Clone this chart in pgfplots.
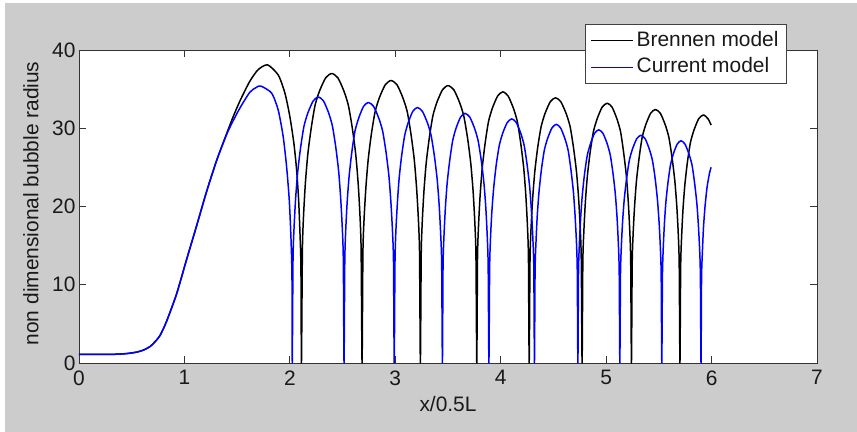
\documentclass[border=0pt]{standalone}
\usepackage{fontspec}
\setmainfont{Liberation Sans}
\usepackage{pgfplots}
\pgfplotsset{compat=1.18}
\definecolor{bgray}{HTML}{CCCCCC}
\definecolor{mblue}{RGB}{0,0,255}
\newcommand{\bigf}{\fontsize{21}{25}\selectfont}
\begin{document}
\begin{tikzpicture}
\fill[white] (-79bp,-69bp) rectangle (778bp,363bp);
\fill[bgray] (-74bp,-69bp) rectangle (778bp,360bp);
\begin{axis}[
  at={(0,0)}, anchor=south west,
  scale only axis, width=738bp, height=313bp,
  xmin=0, xmax=7, ymin=0, ymax=40,
  xtick={0,1,2,3,4,5,6,7}, ytick={0,10,20,30,40},
  tick align=inside, major tick length=7bp,
  axis background/.style={fill=white},
  axis line style={black!80, line width=0.9bp},
  every tick/.style={black!80, line width=0.8bp},
  /pgf/number format/assume math mode=true,
  tick label style={font=\bigf, text=black!90},
  xticklabel style={yshift=-4bp},
  xlabel={x/0.5L}, ylabel={non dimensional bubble radius},
  label style={font=\bigf, text=black!90},
  xlabel style={at={(axis description cs:0.5,-0.1556)}, anchor=base},
  ylabel style={at={(axis description cs:-0.0549,0.51)}, anchor=base, rotate=0},
  legend cell align=left,
  legend image code/.code={\draw[#1, line width=1.1pt] (0bp,0bp) -- (42bp,0bp);},
  legend style={at={(0.9593,1.0831)}, anchor=north east, draw=black!75, fill=white, line width=0.8bp,
    inner xsep=5bp, inner ysep=2.8bp,
    nodes={inner xsep=3bp, inner ysep=3.85bp, text height=15bp, text depth=4bp, font=\bigf, text=black!90}},
]
\addplot[black, line width=1.5pt, line join=round, smooth, tension=0.4] coordinates {
(0,1.1) (0.3,1.1) (0.45,1.2) (0.55,1.4) (0.62,1.7) (0.674,2.1) (0.72,2.7) (0.768,3.5) (0.83,5.3) (0.925,8.8) (1.02,13.2) (1.117,17.6) (1.21,21.9) (1.306,25.9) (1.40,29.3) (1.46,31.4) (1.527,33.5) (1.62,36.0) (1.70,37.5) (1.789,38.1) (1.89,36.8) (1.953,34.5) (2.0,31.5) (2.038,28.1) (2.064,24.7) (2.083,20.9) (2.096,16.6) (2.105,12.3) (2.11,0)
(2.119,14.43) (2.130,18.87) (2.147,22.94) (2.170,26.64) (2.202,29.97) (2.239,32.93) (2.282,34.78) (2.340,36.45) (2.397,37.0) (2.455,36.45) (2.512,34.78) (2.555,32.93) (2.593,29.97) (2.625,26.64) (2.648,22.94) (2.665,18.87) (2.676,14.43) (2.685,0)
(2.693,14.08) (2.704,18.41) (2.721,22.38) (2.743,25.99) (2.773,29.24) (2.809,32.13) (2.85,33.93) (2.905,35.56) (2.96,36.1) (3.016,35.56) (3.071,33.93) (3.113,32.13) (3.149,29.24) (3.180,25.99) (3.202,22.38) (3.219,18.41) (3.230,14.08) (3.238,0)
(3.246,13.83) (3.256,18.08) (3.272,21.98) (3.293,25.52) (3.322,28.71) (3.356,31.55) (3.395,33.32) (3.448,34.92) (3.50,35.45) (3.555,34.92) (3.609,33.32) (3.650,31.55) (3.686,28.71) (3.716,25.52) (3.738,21.98) (3.754,18.08) (3.765,13.83) (3.773,0)
(3.780,13.51) (3.790,17.67) (3.805,21.48) (3.825,24.95) (3.852,28.07) (3.884,30.84) (3.921,32.57) (3.971,34.13) (4.02,34.65) (4.07,34.13) (4.12,32.57) (4.158,30.84) (4.19,28.07) (4.218,24.95) (4.238,21.48) (4.253,17.67) (4.263,13.51) (4.27,0)
(4.278,13.22) (4.288,17.29) (4.303,21.02) (4.323,24.41) (4.35,27.46) (4.383,30.17) (4.42,31.87) (4.47,33.39) (4.52,33.9) (4.570,33.39) (4.621,31.87) (4.659,30.17) (4.691,27.46) (4.719,24.41) (4.739,21.02) (4.754,17.29) (4.764,13.22) (4.772,0)
(4.779,12.95) (4.789,16.93) (4.803,20.58) (4.822,23.90) (4.848,26.89) (4.879,29.55) (4.915,31.21) (4.962,32.70) (5.01,33.2) (5.056,32.70) (5.102,31.21) (5.137,29.55) (5.166,26.89) (5.192,23.90) (5.210,20.58) (5.224,16.93) (5.233,12.95) (5.24,0)
(5.247,12.64) (5.256,16.52) (5.270,20.09) (5.288,23.33) (5.313,26.24) (5.342,28.84) (5.376,30.46) (5.422,31.91) (5.467,32.4) (5.514,31.91) (5.560,30.46) (5.595,28.84) (5.625,26.24) (5.651,23.33) (5.670,20.09) (5.684,16.52) (5.693,12.64) (5.70,0)
(5.707,12.36) (5.716,16.17) (5.729,19.65) (5.747,22.82) (5.771,25.68) (5.800,28.21) (5.834,29.80) (5.878,31.22) (5.923,31.7) (5.967,31.2) (5.996,30.4)
};
\addlegendentry{Brennen model}
\addplot[mblue, line width=1.5pt, line join=round, smooth, tension=0.4] coordinates {
(0,1.1) (0.3,1.1) (0.45,1.2) (0.55,1.4) (0.62,1.7) (0.674,2.1) (0.72,2.7) (0.768,3.5) (0.83,5.3) (0.925,8.8) (1.02,13.2) (1.117,17.6) (1.21,21.9) (1.306,25.9) (1.40,29.2) (1.46,30.9) (1.527,32.6) (1.62,34.6) (1.68,35.2) (1.723,35.4) (1.827,34.5) (1.89,32.3) (1.937,28.9) (1.969,25.1) (1.994,20.9) (2.01,16.2) (2.02,11.1) (2.023,0)
(2.030,13.26) (2.040,17.34) (2.055,21.08) (2.075,24.48) (2.102,27.54) (2.134,30.26) (2.171,31.96) (2.221,33.49) (2.27,34.0) (2.319,33.49) (2.368,31.96) (2.404,30.26) (2.436,27.54) (2.463,24.48) (2.482,21.08) (2.497,17.34) (2.507,13.26) (2.514,0)
(2.521,12.99) (2.530,16.98) (2.544,20.65) (2.563,23.98) (2.588,26.97) (2.618,29.64) (2.653,31.30) (2.699,32.80) (2.745,33.3) (2.794,32.80) (2.843,31.30) (2.880,29.64) (2.912,26.97) (2.939,23.98) (2.958,20.65) (2.973,16.98) (2.983,12.99) (2.99,0)
(2.997,12.73) (3.005,16.65) (3.019,20.24) (3.036,23.51) (3.060,26.45) (3.089,29.06) (3.122,30.69) (3.166,32.16) (3.21,32.65) (3.257,32.16) (3.305,30.69) (3.340,29.06) (3.371,26.45) (3.397,23.51) (3.416,20.24) (3.430,16.65) (3.440,12.73) (3.447,0)
(3.453,12.44) (3.462,16.27) (3.475,19.78) (3.492,22.97) (3.516,25.84) (3.544,28.39) (3.576,29.99) (3.619,31.42) (3.662,31.9) (3.707,31.42) (3.752,29.99) (3.786,28.39) (3.816,25.84) (3.841,22.97) (3.859,19.78) (3.872,16.27) (3.881,12.44) (3.888,0)
(3.895,12.17) (3.903,15.91) (3.916,19.34) (3.934,22.46) (3.957,25.27) (3.986,27.77) (4.018,29.33) (4.062,30.73) (4.105,31.2) (4.148,30.73) (4.191,29.33) (4.223,27.77) (4.251,25.27) (4.275,22.46) (4.292,19.34) (4.305,15.91) (4.314,12.17) (4.32,0)
(4.326,11.90) (4.335,15.56) (4.347,18.91) (4.364,21.96) (4.386,24.71) (4.413,27.15) (4.444,28.67) (4.486,30.04) (4.527,30.5) (4.568,30.04) (4.609,28.67) (4.640,27.15) (4.666,24.71) (4.689,21.96) (4.705,18.91) (4.718,15.56) (4.726,11.90) (4.732,0)
(4.738,11.62) (4.746,15.20) (4.758,18.48) (4.774,21.46) (4.795,24.14) (4.821,26.52) (4.851,28.01) (4.890,29.35) (4.93,29.8) (4.97,29.35) (5.01,28.01) (5.04,26.52) (5.066,24.14) (5.088,21.46) (5.104,18.48) (5.116,15.20) (5.124,11.62) (5.13,0)
(5.136,11.35) (5.144,14.84) (5.156,18.04) (5.172,20.95) (5.194,23.57) (5.22,25.90) (5.25,27.35) (5.29,28.66) (5.33,29.1) (5.370,28.66) (5.409,27.35) (5.439,25.90) (5.465,23.57) (5.486,20.95) (5.502,18.04) (5.514,14.84) (5.522,11.35) (5.528,0)
(5.534,11.08) (5.541,14.48) (5.552,17.61) (5.566,20.45) (5.586,23.00) (5.610,25.28) (5.637,26.70) (5.674,27.97) (5.71,28.4) (5.748,27.97) (5.786,26.70) (5.815,25.28) (5.839,23.00) (5.860,20.45) (5.875,17.61) (5.887,14.48) (5.894,11.08) (5.90,0)
(5.905,10.84) (5.913,14.18) (5.923,17.24) (5.938,20.02) (5.958,22.52) (5.981,24.3) (5.996,25.0)
};
\addlegendentry{Current model}
\end{axis}
\end{tikzpicture}
\end{document}
